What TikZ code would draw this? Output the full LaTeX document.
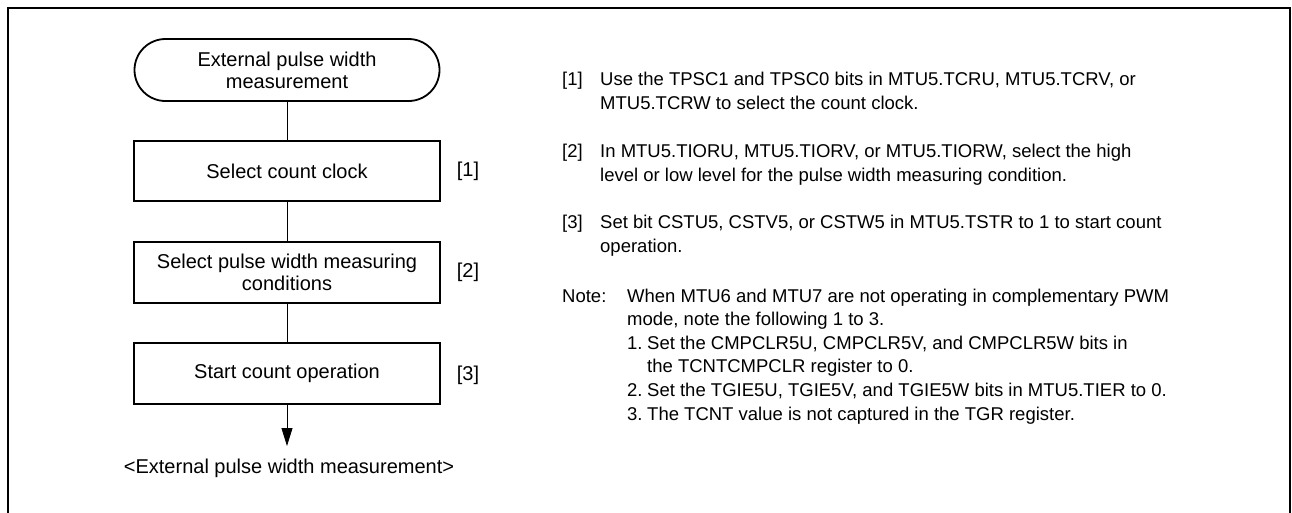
\documentclass[tikz,border=0pt]{standalone}
\usepackage{fontspec}
\setmainfont{Liberation Sans}
\usetikzlibrary{arrows.meta}
\begin{document}
\begin{tikzpicture}[x=1pt,y=-1pt,
  lfont/.style={font=\fontsize{20}{21.7}\selectfont},
  rfont/.style={font=\fontsize{18.5}{24}\selectfont},
  term/.style={draw,line width=1.8pt,rounded corners=31pt,minimum width=305pt,minimum height=62pt,align=center,lfont,inner sep=0pt},
  stepbox/.style={draw,line width=1.8pt,minimum width=306pt,minimum height=60pt,align=center,lfont,inner sep=0pt},
  conn/.style={line width=0.8pt},
  txt/.style={anchor=base west,rfont,inner sep=0pt},
  lbl/.style={lfont,inner sep=0pt}]
\useasboundingbox (0,0) rectangle (1292,512);
\draw[line width=2pt] (8,513) -- (8,8) -- (1290,8) -- (1290,513);
% flowchart
\node[term] (t) at (287,70) {External pulse width\\measurement};
\node[stepbox] (b1) at (287,171) {Select count clock};
\node[stepbox,minimum height=61pt] (b2) at (287,272.5) {Select pulse width measuring\\conditions};
\node[stepbox,minimum height=61pt] (b3) at (287,373.5) {Start count operation};
\coordinate (e) at (287,446);
\node[lfont,anchor=base,inner sep=0pt] (end) at (289,473) {<External pulse width measurement>};
\draw[conn] (t) -- (b1);
\draw[conn] (b1) -- (b2);
\draw[conn] (b2) -- (b3);
\draw[conn,-{Triangle[width=11pt,length=18pt]}] (b3) -- (e);
\node[lbl] (l1) at (468,171) {[1]};
\node[lbl] (l2) at (468,272) {[2]};
\node[lbl] (l3) at (468,375) {[3]};
% right notes
\node[txt] (n1) at (562,85.5) {[1]};
\node[txt] (n1a) at (600,85.5) {Use the TPSC1 and TPSC0 bits in MTU5.TCRU, MTU5.TCRV, or};
\node[txt] (n1b) at (600,109) {MTU5.TCRW to select the count clock.};
\node[txt] (n2) at (562,157) {[2]};
\node[txt] (n2a) at (600,157) {In MTU5.TIORU, MTU5.TIORV, or MTU5.TIORW, select the high};
\node[txt] (n2b) at (600,181) {level or low level for the pulse width measuring condition.};
\node[txt] (n3) at (562,228) {[3]};
\node[txt] (n3a) at (600,228) {Set bit CSTU5, CSTV5, or CSTW5 in MTU5.TSTR to 1 to start count};
\node[txt] (n3b) at (600,252) {operation.};
\node[txt] (nt) at (562,302) {Note:};
\node[txt] (nta) at (627,302) {When MTU6 and MTU7 are not operating in complementary PWM};
\node[txt] (ntb) at (627,325.5) {mode, note the following 1 to 3.};
\node[txt] (k1) at (627,349) {1.};
\node[txt] (k1a) at (647,349) {Set the CMPCLR5U, CMPCLR5V, and CMPCLR5W bits in};
\node[txt] (k1b) at (647,372.5) {the TCNTCMPCLR register to 0.};
\node[txt] (k2) at (627,396) {2.};
\node[txt] (k2a) at (647,396) {Set the TGIE5U, TGIE5V, and TGIE5W bits in MTU5.TIER to 0.};
\node[txt] (k3) at (627,420) {3.};
\node[txt] (k3a) at (647,420) {The TCNT value is not captured in the TGR register.};
\end{tikzpicture}
\end{document}
